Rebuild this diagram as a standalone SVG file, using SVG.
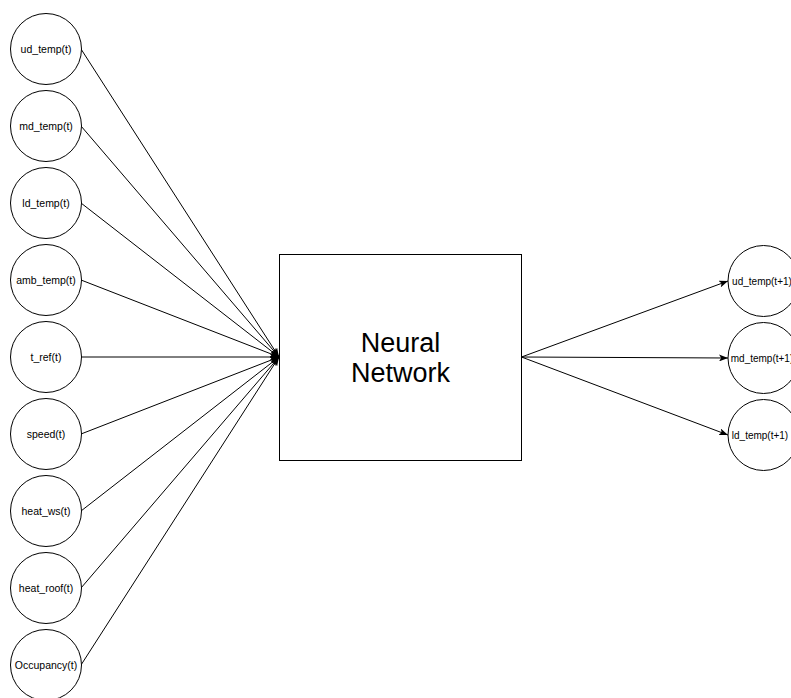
<svg xmlns="http://www.w3.org/2000/svg" width="791" height="698" viewBox="0 0 791 698">
<style>
.node{fill:#fff;stroke:#000;stroke-width:1}
.lbl{font-family:"Liberation Sans",Arial,Helvetica,sans-serif;font-size:10.5px;fill:#000;text-anchor:middle;dominant-baseline:central}
.lbr{font-family:"Liberation Sans",Arial,Helvetica,sans-serif;font-size:10px;fill:#000;text-anchor:middle;dominant-baseline:central}
.big{font-family:"Liberation Sans",Arial,Helvetica,sans-serif;font-size:27px;fill:#000;text-anchor:middle}
.edge{fill:none;stroke:#000;stroke-width:1;marker-end:url(#arr)}
</style>
<defs>
<marker id="arr" viewBox="0 0 9 7" refX="9" refY="3.5" markerWidth="9" markerHeight="7" markerUnits="userSpaceOnUse" orient="auto">
<path d="M0,0 L9,3.5 L0,7 L2.2,3.5 Z" fill="#000"/>
</marker>
</defs>
<rect width="791" height="698" fill="#fff"/>
<g id="connectors">
<line class="edge" x1="81" y1="49" x2="279" y2="357"/>
<line class="edge" x1="81" y1="126" x2="279" y2="357"/>
<line class="edge" x1="81" y1="203" x2="279" y2="357"/>
<line class="edge" x1="81" y1="280" x2="279" y2="357"/>
<line class="edge" x1="81" y1="357" x2="279" y2="357"/>
<line class="edge" x1="81" y1="434" x2="279" y2="357"/>
<line class="edge" x1="81" y1="511" x2="279" y2="357"/>
<line class="edge" x1="81" y1="588" x2="279" y2="357"/>
<line class="edge" x1="81" y1="665" x2="279" y2="357"/>
<line class="edge" x1="521.5" y1="357" x2="728" y2="281"/>
<line class="edge" x1="521.5" y1="357" x2="728" y2="358"/>
<line class="edge" x1="521.5" y1="357" x2="728" y2="435"/>
</g>
<g id="nn">
<rect class="node" x="279.5" y="254.5" width="242" height="206"/>
<text class="big" x="400.5" y="352">Neural</text>
<text class="big" x="400.5" y="382">Network</text>
</g>
<g id="ud_temp_t"><circle class="node" cx="46" cy="49" r="35.5"/><text class="lbl" x="46" y="49">ud_temp(t)</text></g>
<g id="md_temp_t"><circle class="node" cx="46" cy="126" r="35.5"/><text class="lbl" x="46" y="126">md_temp(t)</text></g>
<g id="ld_temp_t"><circle class="node" cx="46" cy="203" r="35.5"/><text class="lbl" x="46" y="203">ld_temp(t)</text></g>
<g id="amb_temp_t"><circle class="node" cx="46" cy="280" r="35.5"/><text class="lbl" x="46" y="280">amb_temp(t)</text></g>
<g id="t_ref_t"><circle class="node" cx="46" cy="357" r="35.5"/><text class="lbl" x="46" y="357">t_ref(t)</text></g>
<g id="speed_t"><circle class="node" cx="46" cy="434" r="35.5"/><text class="lbl" x="46" y="434">speed(t)</text></g>
<g id="heat_ws_t"><circle class="node" cx="46" cy="511" r="35.5"/><text class="lbl" x="46" y="511">heat_ws(t)</text></g>
<g id="heat_roof_t"><circle class="node" cx="46" cy="588" r="35.5"/><text class="lbl" x="46" y="588">heat_roof(t)</text></g>
<g id="occupancy_t"><circle class="node" cx="46" cy="665" r="35.5"/><text class="lbl" x="46" y="665">Occupancy(t)</text></g>
<g id="ud_temp_t1"><circle class="node" cx="763.5" cy="281" r="35.5"/><text class="lbr" x="762" y="281">ud_temp(t+1)</text></g>
<g id="md_temp_t1"><circle class="node" cx="763.5" cy="358" r="35.5"/><text class="lbr" x="762" y="358">md_temp(t+1)</text></g>
<g id="ld_temp_t1"><circle class="node" cx="763.5" cy="435" r="35.5"/><text class="lbr" x="760" y="435">ld_temp(t+1)</text></g>
</svg>
